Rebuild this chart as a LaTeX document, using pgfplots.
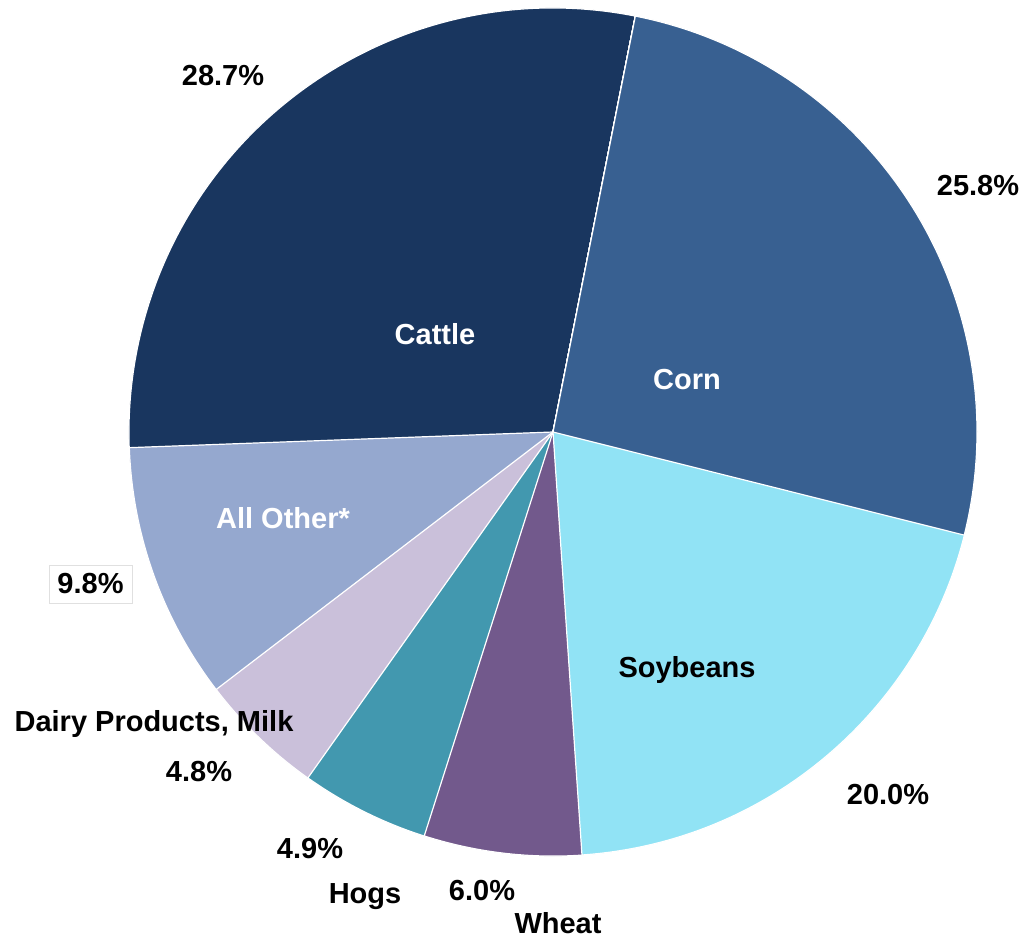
\documentclass[border=0pt]{standalone}
\usepackage{pgfplots}
\pgfplotsset{compat=1.18}
\usepackage{fontspec}
\setmainfont{Liberation Sans}
\definecolor{cCattle}{RGB}{25,54,95}
\definecolor{cCorn}{RGB}{56,96,145}
\definecolor{cSoy}{RGB}{145,227,245}
\definecolor{cWheat}{RGB}{114,89,140}
\definecolor{cHogs}{RGB}{66,152,175}
\definecolor{cDairy}{RGB}{202,192,218}
\definecolor{cOther}{RGB}{149,168,207}
% slice: start angle, value (%), colour
\newcommand\slice[3]{%
  \pgfmathsetmacro\endang{#1+3.6*#2}%
  \fill[#3, draw=white, line width=0.6pt] (axis cs:553,507) -- ++(#1:212pt)
    arc[start angle=#1, end angle=\endang, radius=212pt] -- cycle;}
\begin{document}
\begin{tikzpicture}
\begin{axis}[x=0.5pt, y=0.5pt, xmin=0, xmax=1024, ymin=0, ymax=939,
  hide axis, clip=false, scale only axis]
\coordinate (ll) at (axis cs:0,0);
\coordinate (ur) at (axis cs:1024,939);
% Values: Cattle 28.7, All Other 9.8, Dairy 4.8, Hogs 4.9, Wheat 6.0, Soybeans 20.0, Corn 25.8
\slice{78.8}{28.7}{cCattle}
\slice{182.12}{9.8}{cOther}
\slice{217.4}{4.8}{cDairy}
\slice{234.68}{4.9}{cHogs}
\slice{252.32}{6.0}{cWheat}
\slice{273.92}{20.0}{cSoy}
\slice{345.92}{25.8}{cCorn}
\tikzset{lab/.style={font=\fontsize{14.5}{16}\selectfont\bfseries, inner sep=0pt}}
\node[lab] at (axis cs:223,863) {28.7\%};
\node[lab] at (axis cs:978,753) {25.8\%};
\node[lab, white] at (axis cs:435,605) {Cattle};
\node[lab, white] at (axis cs:687,559) {Corn};
\node[lab, white] at (axis cs:283,421) {All Other*};
\node[lab] at (axis cs:687,269) {Soybeans};
\node[lab] at (axis cs:888,144) {20.0\%};
\node[lab, draw=black!12, line width=0.5pt, minimum width=41.5pt, minimum height=19pt] at (axis cs:90.5,355) {9.8\%};
\node[lab] at (axis cs:154,215) {Dairy Products, Milk};
\node[lab] at (axis cs:199,167) {4.8\%};
\node[lab] at (axis cs:310,90) {4.9\%};
\node[lab] at (axis cs:365,42) {Hogs};
\node[lab] at (axis cs:482,48) {6.0\%};
\node[lab] at (axis cs:558,16) {Wheat};
\end{axis}
\pgfresetboundingbox
\path[use as bounding box] (ll) rectangle (ur);
\end{tikzpicture}
\end{document}
